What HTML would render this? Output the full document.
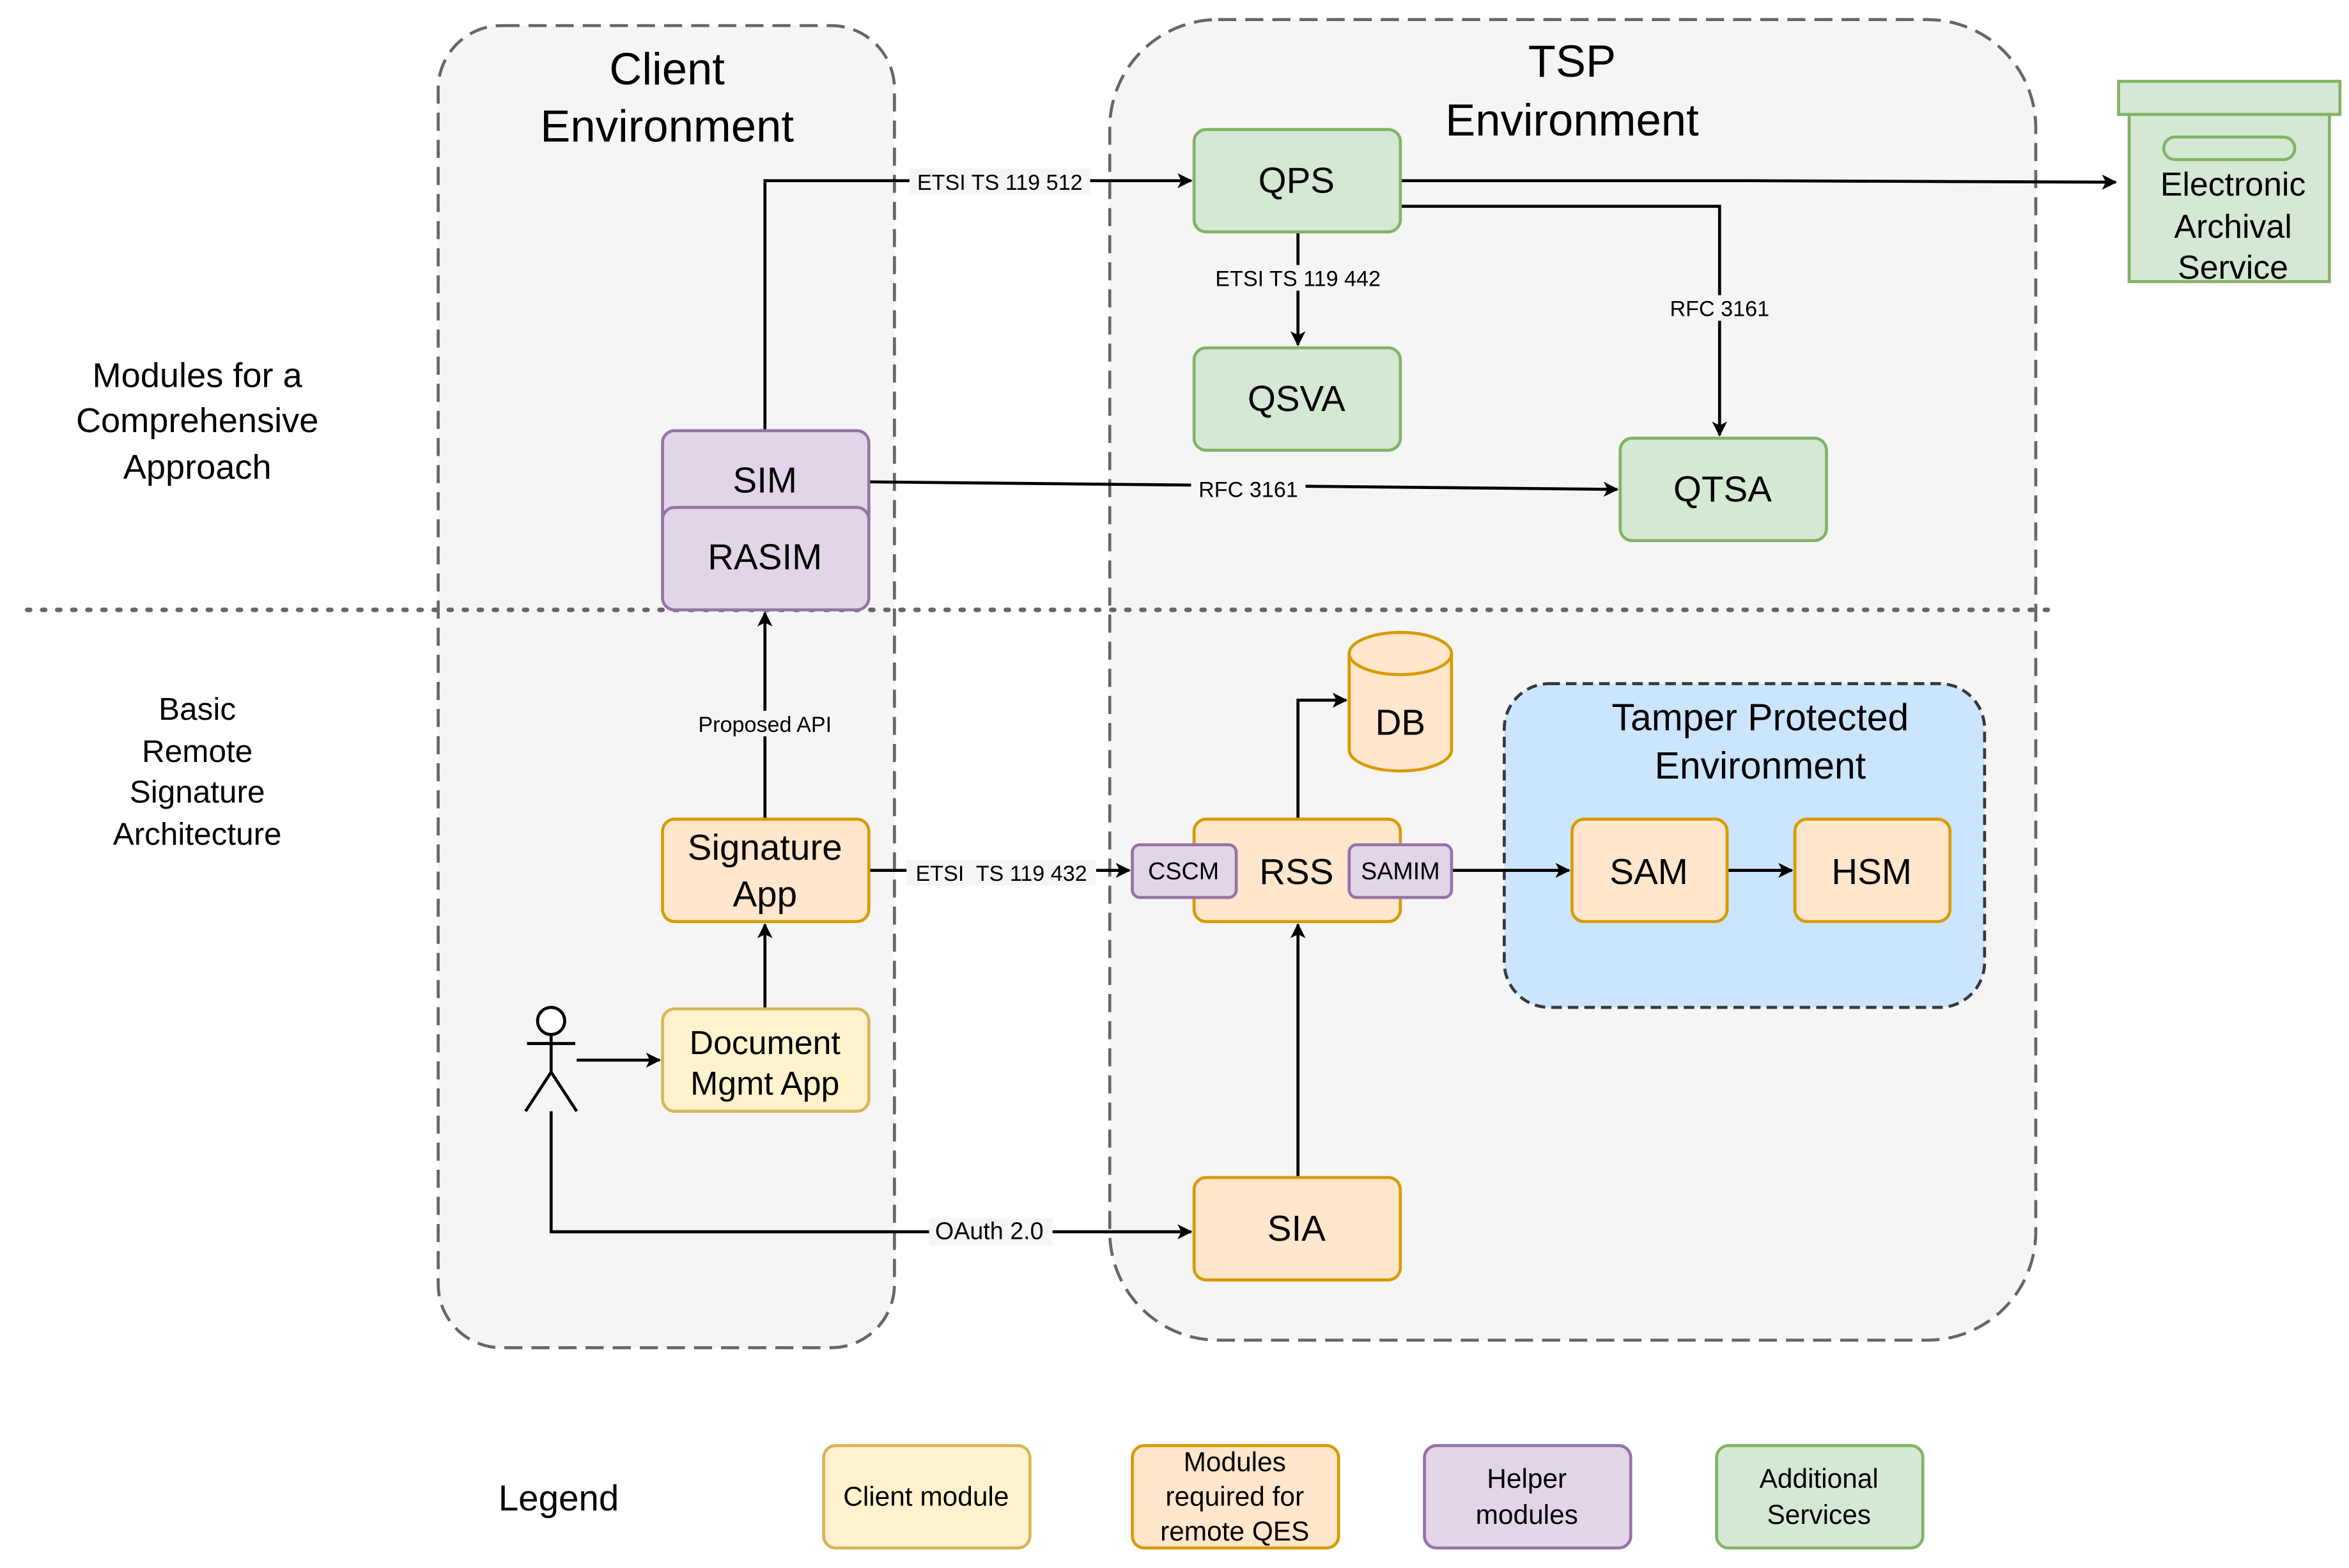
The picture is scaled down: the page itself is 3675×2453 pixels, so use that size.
<!DOCTYPE html>
<html><head><meta charset="utf-8"><style>
html,body{margin:0;padding:0;background:#fff;}
svg{display:block;}
text{font-family:"Liberation Sans",Arial,sans-serif;fill:#000;}
</style></head><body>
<svg width="3675" height="2453" viewBox="0 0 1560 1041.3" xmlns="http://www.w3.org/2000/svg">
<defs>
<marker id="a" viewBox="0 0 10 10" refX="9" refY="5" markerWidth="11" markerHeight="10" orient="auto" markerUnits="userSpaceOnUse">
<path d="M0,0 L10,5 L0,10 L2.5,5 Z" fill="#000"/>
</marker>
</defs>
<rect width="1560" height="1042" fill="#fff"/>
<rect x="291" y="17" width="303" height="878" rx="42" fill="#f5f5f5" stroke="#666" stroke-width="2" stroke-dasharray="12 6"/>
<rect x="737" y="13" width="615" height="877" rx="72" fill="#f5f5f5" stroke="#666" stroke-width="2" stroke-dasharray="12 6"/>
<text x="443" y="56" font-size="30" text-anchor="middle">Client</text>
<text x="443" y="94" font-size="30" text-anchor="middle">Environment</text>
<text x="1044" y="51" font-size="30" text-anchor="middle">TSP</text>
<text x="1044" y="90" font-size="30" text-anchor="middle">Environment</text>
<line x1="18" y1="405" x2="1365" y2="405" stroke="#666" stroke-width="3" stroke-dasharray="2 8" stroke-linecap="round"/>
<g font-size="23" text-anchor="middle">
<text x="131" y="257">Modules for a</text>
<text x="131" y="287">Comprehensive</text>
<text x="131" y="318">Approach</text>
</g>
<g font-size="21" text-anchor="middle">
<text x="131" y="478">Basic</text>
<text x="131" y="506">Remote</text>
<text x="131" y="533">Signature</text>
<text x="131" y="561">Architecture</text>
</g>
<rect x="999" y="454" width="319" height="215" rx="30" fill="#cce5ff" stroke="#36393d" stroke-width="2" stroke-dasharray="7 4"/>
<text x="1169" y="485" font-size="25" text-anchor="middle">Tamper Protected</text>
<text x="1169" y="517" font-size="25" text-anchor="middle">Environment</text>
<g fill="none" stroke="#000" stroke-width="2">
<path d="M508,286 V120 H791" marker-end="url(#a)"/>
<path d="M930,120 H1160 L1405,121" marker-end="url(#a)"/>
<path d="M930,137 H1142 V289" marker-end="url(#a)"/>
<path d="M862,154 V229" marker-end="url(#a)"/>
<path d="M577,320 L1074,325" marker-end="url(#a)"/>
<path d="M508,544 V407" marker-end="url(#a)"/>
<path d="M577,578 H750" marker-end="url(#a)"/>
<path d="M508,670 V614" marker-end="url(#a)"/>
<path d="M383,704 H438" marker-end="url(#a)"/>
<path d="M366,738 V818 H791" marker-end="url(#a)"/>
<path d="M862,782 V614" marker-end="url(#a)"/>
<path d="M862,544 V465 H894" marker-end="url(#a)"/>
<path d="M964,578 H1042" marker-end="url(#a)"/>
<path d="M1147,578 H1190" marker-end="url(#a)"/>
</g>
<g font-size="14.5" text-anchor="middle">
<rect x="604" y="112" width="120" height="17" fill="#f5f5f5"/><text x="664" y="126">ETSI TS 119 512</text>
<rect x="1106" y="196" width="72" height="17" fill="#f5f5f5"/><text x="1142" y="210">RFC 3161</text>
<rect x="801" y="176" width="122" height="17" fill="#f5f5f5"/><text x="862" y="190">ETSI TS 119 442</text>
<rect x="791" y="316" width="76" height="17" fill="#f5f5f5"/><text x="829" y="330">RFC 3161</text>
<rect x="458" y="472" width="100" height="17" fill="#f5f5f5"/><text x="508" y="486">Proposed API</text>
<rect x="602" y="571" width="126" height="17" fill="#f5f5f5"/><text x="665" y="585" xml:space="preserve">ETSI  TS 119 432</text>
<rect x="617" y="809" width="82" height="18" fill="#f5f5f5"/><text x="657" y="823" font-size="16">OAuth 2.0</text>
</g>
<g stroke-width="2">
<rect x="793" y="86" width="137" height="68" rx="8" fill="#d5e8d4" stroke="#82b366"/>
<rect x="793" y="231" width="137" height="68" rx="8" fill="#d5e8d4" stroke="#82b366"/>
<rect x="1076" y="291" width="137" height="68" rx="8" fill="#d5e8d4" stroke="#82b366"/>
<rect x="1407" y="54" width="147" height="22" fill="#d5e8d4" stroke="#82b366"/>
<rect x="1414" y="76" width="133" height="111" fill="#d5e8d4" stroke="#82b366"/>
<rect x="1437" y="91" width="87" height="15" rx="7.5" fill="#d5e8d4" stroke="#82b366"/>
<rect x="440" y="286" width="137" height="68" rx="8" fill="#e1d5e7" stroke="#9673a6"/>
<rect x="440" y="337" width="137" height="68" rx="8" fill="#e1d5e7" stroke="#9673a6"/>
<rect x="440" y="544" width="137" height="68" rx="8" fill="#ffe6cc" stroke="#d79b00"/>
<rect x="440" y="670" width="137" height="68" rx="8" fill="#fff2cc" stroke="#d6b656"/>
<rect x="793" y="544" width="137" height="68" rx="8" fill="#ffe6cc" stroke="#d79b00"/>
<rect x="752" y="561" width="69" height="35" rx="5" fill="#e1d5e7" stroke="#9673a6"/>
<rect x="896" y="561" width="68" height="35" rx="5" fill="#e1d5e7" stroke="#9673a6"/>
<path d="M896,434 A34,14 0 0 1 964,434 V498 A34,14 0 0 1 896,498 Z" fill="#ffe6cc" stroke="#d79b00"/>
<path d="M896,434 A34,14 0 0 0 964,434" fill="none" stroke="#d79b00"/>
<rect x="1044" y="544" width="103" height="68" rx="8" fill="#ffe6cc" stroke="#d79b00"/>
<rect x="1192" y="544" width="103" height="68" rx="8" fill="#ffe6cc" stroke="#d79b00"/>
<rect x="793" y="782" width="137" height="68" rx="8" fill="#ffe6cc" stroke="#d79b00"/>
<rect x="547" y="960" width="137" height="68" rx="8" fill="#fff2cc" stroke="#d6b656"/>
<rect x="752" y="960" width="137" height="68" rx="8" fill="#ffe6cc" stroke="#d79b00"/>
<rect x="946" y="960" width="137" height="68" rx="8" fill="#e1d5e7" stroke="#9673a6"/>
<rect x="1140" y="960" width="137" height="68" rx="8" fill="#d5e8d4" stroke="#82b366"/>
</g>
<g fill="none" stroke="#000" stroke-width="2">
<circle cx="366" cy="678" r="9" fill="#fff"/>
<path d="M366,687 V712 M350,693 H382 M366,712 L349,738 M366,712 L383,738"/>
</g>
<g font-size="24" text-anchor="middle">
<text x="861" y="128">QPS</text>
<text x="861" y="273">QSVA</text>
<text x="1144" y="333">QTSA</text>
<text x="508" y="327">SIM</text>
<text x="508" y="378">RASIM</text>
<text x="508" y="571">Signature</text>
<text x="508" y="602">App</text>
<text x="508" y="700" font-size="22">Document</text>
<text x="508" y="727" font-size="22">Mgmt App</text>
<text x="861" y="587">RSS</text>
<text x="930" y="488">DB</text>
<text x="1095" y="587">SAM</text>
<text x="1243" y="587">HSM</text>
<text x="861" y="824">SIA</text>
<text x="1483" y="130" font-size="22">Electronic</text>
<text x="1483" y="158" font-size="22">Archival</text>
<text x="1483" y="185" font-size="22">Service</text>
<text x="371" y="1003">Legend</text>
</g>
<g font-size="16" text-anchor="middle">
<text x="786" y="584">CSCM</text>
<text x="930" y="584">SAMIM</text>
</g>
<g font-size="18" text-anchor="middle">
<text x="615" y="1000">Client module</text>
<text x="820" y="977">Modules</text>
<text x="820" y="1000">required for</text>
<text x="820" y="1023">remote QES</text>
<text x="1014" y="988">Helper</text>
<text x="1014" y="1012">modules</text>
<text x="1208" y="988">Additional</text>
<text x="1208" y="1012">Services</text>
</g>
</svg>
</body></html>
